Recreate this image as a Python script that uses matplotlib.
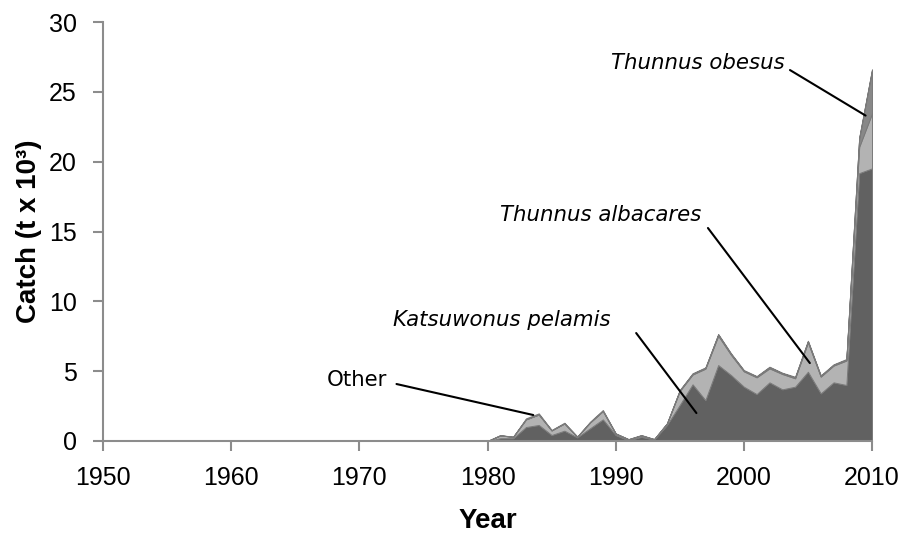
import numpy as np
import matplotlib
matplotlib.use("Agg")
import matplotlib.pyplot as plt

years = list(range(1950, 2011))
zeros30 = [0.0] * 30  # 1950-1979

katsuwonus = zeros30 + [0.0, 0.2, 0.2, 1.0, 1.15, 0.43, 0.74, 0.26, 0.91, 1.55,
                        0.43, 0.05, 0.3, 0.1, 1.15, 2.58, 4.06, 2.93, 5.44, 4.72,
                        3.89, 3.36, 4.2, 3.7, 3.89, 4.96, 3.41, 4.2, 4.01, 19.18, 19.52]
albacares = zeros30 + [0.0, 0.2, 0.1, 0.55, 0.75, 0.33, 0.52, 0.05, 0.42, 0.6,
                       0.1, 0.07, 0.1, 0.03, 0.1, 1.0, 0.7, 2.25, 2.1, 1.45,
                       1.1, 1.2, 1.0, 1.1, 0.6, 2.1, 1.2, 1.2, 1.75, 1.89, 3.94]
obesus = zeros30 + [0.0, 0.0, 0.0, 0.0, 0.0, 0.0, 0.0, 0.0, 0.0, 0.0,
                    0.0, 0.0, 0.0, 0.0, 0.0, 0.05, 0.05, 0.05, 0.08, 0.06,
                    0.05, 0.05, 0.08, 0.05, 0.06, 0.08, 0.05, 0.05, 0.06, 0.6, 3.1]
other = zeros30 + [0.0, 0.03, 0.0, 0.07, 0.08, 0.03, 0.05, 0.0, 0.05, 0.07,
                   0.02, 0.02, 0.03, 0.01, 0.02, 0.02, 0.04, 0.04, 0.04, 0.05,
                   0.04, 0.04, 0.04, 0.04, 0.05, 0.04, 0.04, 0.04, 0.05, 0.05, 0.05]

series_labels = ["Katsuwonus pelamis", "Thunnus albacares", "Thunnus obesus", "Other"]
colors = ["#616161", "#b3b3b3", "#888888", "#c4c4c4"]

fig = plt.figure(figsize=(9.02, 5.36), dpi=100)
ax = fig.add_axes([103/902, 1-441/536, (872-103)/902, (441-22)/536])

polys = ax.stackplot(years, katsuwonus, albacares, obesus, other,
                     colors=colors, labels=series_labels,
                     edgecolor="#7a7a7a", linewidth=0.7)

ax.set_xlim(1950, 2010)
ax.set_ylim(0, 30)
ax.set_xticks(range(1950, 2011, 10))
ax.set_yticks(range(0, 31, 5))

for s in ["top", "right"]:
    ax.spines[s].set_visible(False)
for s in ["left", "bottom"]:
    ax.spines[s].set_color("#8c8c8c")
    ax.spines[s].set_linewidth(1.5)
    ax.spines[s].set_zorder(5)
ax.tick_params(axis="both", colors="#8c8c8c", width=1.5, length=7,
               labelcolor="black", labelsize=18)
ax.tick_params(axis="x", pad=11)
ax.tick_params(axis="y", pad=12)
for lab in ax.get_xticklabels() + ax.get_yticklabels():
    lab.set_family("Liberation Sans")

ax.set_xlabel("Year", fontsize=20, fontweight="bold", family="Liberation Sans", labelpad=13)
ax.set_ylabel("Catch (t x 10³)", fontsize=20, fontweight="bold", family="Liberation Sans", labelpad=5)

ann_font = dict(fontsize=15.3, family="DejaVu Sans", color="black")
line_kw = dict(arrowstyle="-", lw=1.5, color="black", shrinkA=0, shrinkB=0)

ax.text(2003.2, 27.06, "Thunnus obesus", ha="right", va="center", style="italic", **ann_font)
ax.annotate("", xy=(2009.5, 23.3), xytext=(2003.6, 26.56), arrowprops=line_kw)

ax.text(1988.85, 16.18, "Thunnus albacares", ha="center", va="center", style="italic", **ann_font)
ax.annotate("", xy=(2005.15, 5.58), xytext=(1997.2, 15.25), arrowprops=line_kw)

ax.text(1981.1, 8.66, "Katsuwonus pelamis", ha="center", va="center", style="italic", **ann_font)
ax.annotate("", xy=(1996.3, 2.0), xytext=(1991.6, 7.73), arrowprops=line_kw)

ax.text(1972.15, 4.37, "Other", ha="right", va="center", **ann_font)
ax.annotate("", xy=(1983.57, 1.86), xytext=(1972.9, 4.08), arrowprops=line_kw)

fig.savefig("out.png", dpi=100)
